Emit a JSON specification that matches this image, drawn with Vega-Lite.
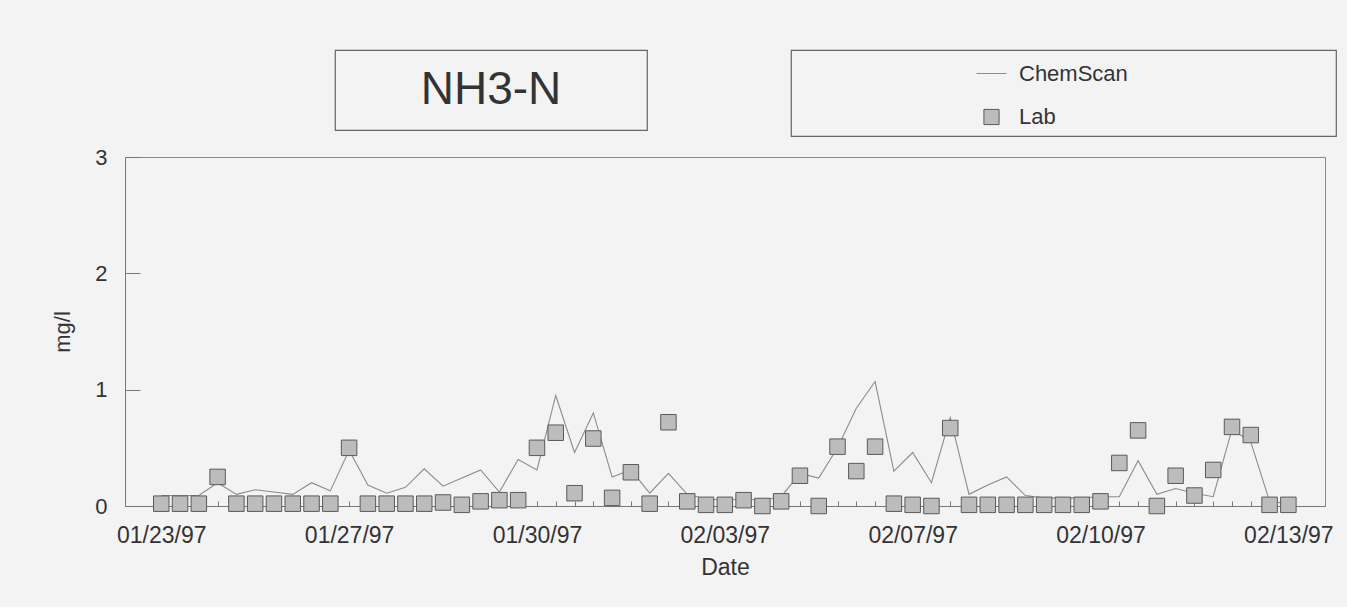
{
  "$schema": "https://vega.github.io/schema/vega-lite/v6.json",
  "background": "#f3f3f3",
  "padding": {"left": 51, "top": 49, "right": 14, "bottom": 27},
  "config": {
    "font": "Liberation Sans",
    "view": {"stroke": "#888888", "strokeWidth": 1},
    "axis": {"grid": false, "labelFont": "Liberation Sans", "titleFont": "Liberation Sans", "labelColor": "#333333", "titleColor": "#333333", "titleFontWeight": "normal", "domainColor": "#777777", "tickColor": "#777777"}
  },
  "datasets": {
    "nh3": [
      {"i": 0, "ChemScan": 0.09, "Lab": 0.02},
      {"i": 1, "ChemScan": 0.09, "Lab": 0.02},
      {"i": 2, "ChemScan": 0.09, "Lab": 0.02},
      {"i": 3, "ChemScan": 0.2, "Lab": 0.25},
      {"i": 4, "ChemScan": 0.1, "Lab": 0.02},
      {"i": 5, "ChemScan": 0.14, "Lab": 0.02},
      {"i": 6, "ChemScan": 0.12, "Lab": 0.02},
      {"i": 7, "ChemScan": 0.1, "Lab": 0.02},
      {"i": 8, "ChemScan": 0.2, "Lab": 0.02},
      {"i": 9, "ChemScan": 0.13, "Lab": 0.02},
      {"i": 10, "ChemScan": 0.48, "Lab": 0.5},
      {"i": 11, "ChemScan": 0.18, "Lab": 0.02},
      {"i": 12, "ChemScan": 0.11, "Lab": 0.02},
      {"i": 13, "ChemScan": 0.16, "Lab": 0.02},
      {"i": 14, "ChemScan": 0.32, "Lab": 0.02},
      {"i": 15, "ChemScan": 0.17, "Lab": 0.03},
      {"i": 16, "ChemScan": 0.24, "Lab": 0.01},
      {"i": 17, "ChemScan": 0.31, "Lab": 0.04},
      {"i": 18, "ChemScan": 0.12, "Lab": 0.05},
      {"i": 19, "ChemScan": 0.4, "Lab": 0.05},
      {"i": 20, "ChemScan": 0.31, "Lab": 0.5},
      {"i": 21, "ChemScan": 0.95, "Lab": 0.63},
      {"i": 22, "ChemScan": 0.46, "Lab": 0.11},
      {"i": 23, "ChemScan": 0.8, "Lab": 0.58},
      {"i": 24, "ChemScan": 0.25, "Lab": 0.07},
      {"i": 25, "ChemScan": 0.31, "Lab": 0.29},
      {"i": 26, "ChemScan": 0.11, "Lab": 0.02},
      {"i": 27, "ChemScan": 0.28, "Lab": 0.72},
      {"i": 28, "ChemScan": 0.1, "Lab": 0.04},
      {"i": 29, "ChemScan": 0.06, "Lab": 0.01},
      {"i": 30, "ChemScan": 0.05, "Lab": 0.01},
      {"i": 31, "ChemScan": 0.06, "Lab": 0.05},
      {"i": 32, "ChemScan": 0.05, "Lab": 0.0},
      {"i": 33, "ChemScan": 0.08, "Lab": 0.04},
      {"i": 34, "ChemScan": 0.28, "Lab": 0.26},
      {"i": 35, "ChemScan": 0.24, "Lab": 0.0},
      {"i": 36, "ChemScan": 0.5, "Lab": 0.51},
      {"i": 37, "ChemScan": 0.84, "Lab": 0.3},
      {"i": 38, "ChemScan": 1.07, "Lab": 0.51},
      {"i": 39, "ChemScan": 0.3, "Lab": 0.02},
      {"i": 40, "ChemScan": 0.46, "Lab": 0.01},
      {"i": 41, "ChemScan": 0.2, "Lab": 0.0},
      {"i": 42, "ChemScan": 0.76, "Lab": 0.67},
      {"i": 43, "ChemScan": 0.1, "Lab": 0.01},
      {"i": 44, "ChemScan": 0.18, "Lab": 0.01},
      {"i": 45, "ChemScan": 0.25, "Lab": 0.01},
      {"i": 46, "ChemScan": 0.09, "Lab": 0.01},
      {"i": 47, "ChemScan": 0.07, "Lab": 0.01},
      {"i": 48, "ChemScan": 0.07, "Lab": 0.01},
      {"i": 49, "ChemScan": 0.07, "Lab": 0.01},
      {"i": 50, "ChemScan": 0.08, "Lab": 0.04},
      {"i": 51, "ChemScan": 0.08, "Lab": 0.37},
      {"i": 52, "ChemScan": 0.39, "Lab": 0.65},
      {"i": 53, "ChemScan": 0.1, "Lab": 0.0},
      {"i": 54, "ChemScan": 0.15, "Lab": 0.26},
      {"i": 55, "ChemScan": 0.11, "Lab": 0.09},
      {"i": 56, "ChemScan": 0.08, "Lab": 0.31},
      {"i": 57, "ChemScan": 0.66, "Lab": 0.68},
      {"i": 58, "ChemScan": 0.55, "Lab": 0.61},
      {"i": 59, "ChemScan": 0.04, "Lab": 0.01},
      {"i": 60, "ChemScan": 0.02, "Lab": 0.01}
    ]
  },
  "vconcat": [
    {
      "hconcat": [
        {
          "width": 67, "height": 20,
          "data": {"values": []},
          "mark": "point",
          "view": {"stroke": null}
        },
        {
          "width": 312, "height": 80,
          "data": {"values": [{"label": "NH3-N"}]},
          "mark": {"type": "text", "fontSize": 46, "font": "Liberation Sans", "color": "#333333"},
          "encoding": {"text": {"field": "label", "type": "nominal"}},
          "view": {"stroke": "#666666", "strokeWidth": 1.2}
        },
        {
          "width": 545, "height": 86,
          "data": {"name": "nh3"},
          "transform": [{"fold": ["ChemScan", "Lab"], "as": ["series", "value"]}],
          "mark": {"type": "point", "opacity": 0, "filled": true, "color": "#bcbcbc"},
          "view": {"stroke": "#666666", "strokeWidth": 1.2},
          "encoding": {
            "shape": {
              "field": "series", "type": "nominal",
              "scale": {"domain": ["ChemScan", "Lab"], "range": ["stroke", "square"]},
              "legend": {
                "orient": "none", "legendX": 185, "legendY": 8,
                "title": null, "padding": 0,
                "labelFontSize": 22, "labelFont": "Liberation Sans", "labelColor": "#333333",
                "labelOffset": 12, "rowPadding": 21,
                "symbolOpacity": 1, "symbolStrokeWidth": 1
              }
            },
            "stroke": {
              "field": "series", "type": "nominal",
              "scale": {"domain": ["ChemScan", "Lab"], "range": ["#8c8c8c", "#5a5a5a"]}
            },
            "size": {
              "field": "series", "type": "nominal",
              "scale": {"domain": ["ChemScan", "Lab"], "range": [900, 230]}
            }
          }
        }
      ],
      "spacing": 142,
      "resolve": {"legend": {"shape": "independent", "stroke": "independent", "size": "independent"}}
    },
    {
      "width": 1200, "height": 349,
      "data": {"name": "nh3"},
      "encoding": {
        "x": {
          "field": "i", "type": "quantitative",
          "scale": {"domain": [-1.93, 61.95], "nice": false, "zero": false},
          "axis": {
            "values": [0,1,2,3,4,5,6,7,8,9,10,11,12,13,14,15,16,17,18,19,20,21,22,23,24,25,26,27,28,29,30,31,32,33,34,35,36,37,38,39,40,41,42,43,44,45,46,47,48,49,50,51,52,53,54,55,56,57,58,59,60],
            "labelExpr": "datum.value % 10 === 0 ? ['01/23/97','01/27/97','01/30/97','02/03/97','02/07/97','02/10/97','02/13/97'][datum.value / 10] : ''",
            "labelOverlap": false, "labelFlush": false,
            "tickSize": -5, "labelPadding": 23, "labelFontSize": 23,
            "title": "Date", "titleFontSize": 23, "titlePadding": 9
          }
        }
      },
      "layer": [
        {
          "mark": {"type": "line", "color": "#8c8c8c", "strokeWidth": 1.1},
          "encoding": {
            "y": {
              "field": "ChemScan", "type": "quantitative",
              "scale": {"domain": [0, 3], "nice": false},
              "axis": {
                "values": [0, 1, 2, 3], "format": "d", "tickSize": -15, "labelPadding": 33,
                "labelFontSize": 22, "title": "mg/l", "titleFontSize": 22, "titlePadding": 20
              }
            }
          }
        },
        {
          "mark": {"type": "point", "shape": "square", "filled": true, "size": 240, "fill": "#bcbcbc", "stroke": "#5a5a5a", "strokeWidth": 1, "opacity": 1},
          "encoding": {
            "y": {"field": "Lab", "type": "quantitative"}
          }
        }
      ]
    }
  ],
  "spacing": 8
}
